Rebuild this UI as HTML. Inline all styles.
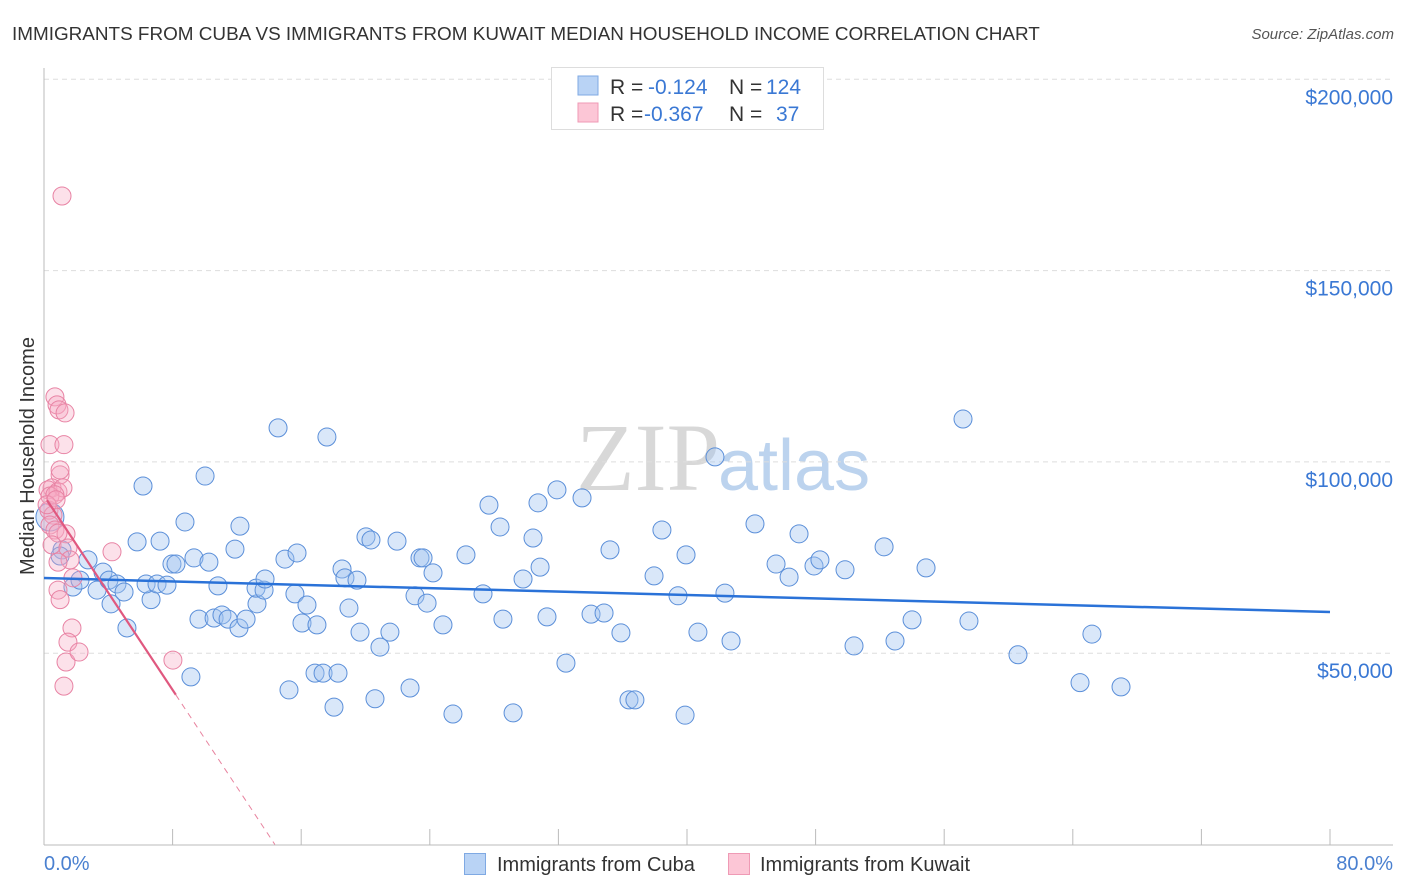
<!DOCTYPE html>
<html><head><meta charset="utf-8"><style>
body{margin:0;background:#fff;font-family:"Liberation Sans",sans-serif;}
#wrap{position:relative;width:1406px;height:892px;overflow:hidden;}
</style></head><body>
<div id="wrap">
<svg id="chart" width="1406" height="892" xmlns="http://www.w3.org/2000/svg">
<text x="12" y="40" font-size="18.9" fill="#333">IMMIGRANTS FROM CUBA VS IMMIGRANTS FROM KUWAIT MEDIAN HOUSEHOLD INCOME CORRELATION CHART</text>
<text x="1394" y="39" font-size="15" fill="#555" font-style="italic" text-anchor="end">Source: ZipAtlas.com</text>
<text x="720" y="490" font-size="96" fill="#d8d8d8" text-anchor="end" font-family="Liberation Serif">ZIP</text>
<text x="718" y="490" font-size="72" fill="#bcd3ee">atlas</text>
<g id="grid"></g><g id="axes"></g><g id="marks"></g>
<text transform="translate(34,456) rotate(-90)" font-size="20" fill="#333" text-anchor="middle">Median Household Income</text>
<text x="44" y="870" font-size="20" fill="#4a80d0">0.0%</text>
<text x="1393" y="870" font-size="20" fill="#4a80d0" text-anchor="end">80.0%</text>
<g>
<rect x="551.5" y="67.5" width="272" height="62" fill="#fff" stroke="#ddd"/>
<rect x="578" y="76" width="20" height="19" fill="#b9d3f5" stroke="#7fa9e3"/>
<rect x="578" y="103" width="20" height="19" fill="#fcc6d6" stroke="#ef9ab5"/>
<text x="610" y="94" font-size="21" fill="#333">R = </text><text x="648" y="94" font-size="21" fill="#3a78d4">-0.124</text>
<text x="729" y="94" font-size="21" fill="#333">N = </text><text x="766" y="94" font-size="21" fill="#3a78d4">124</text>
<text x="610" y="121" font-size="21" fill="#333">R = </text><text x="644" y="121" font-size="21" fill="#3a78d4">-0.367</text>
<text x="729" y="121" font-size="21" fill="#333">N = </text><text x="776" y="121" font-size="21" fill="#3a78d4">37</text>
</g>
<g>
<rect x="464.5" y="853.5" width="21" height="21" fill="#b9d3f5" stroke="#7fa9e3"/>
<text x="497" y="871" font-size="20" fill="#333">Immigrants from Cuba</text>
<rect x="728.5" y="853.5" width="21" height="21" fill="#fcc6d6" stroke="#ef9ab5"/>
<text x="760" y="871" font-size="20" fill="#333">Immigrants from Kuwait</text>
</g>
</svg>
</div>
<script>
const yTicks=[50000,100000,150000,200000];
const yTickLabels=["$50,000","$100,000","$150,000","$200,000"];
const xTicks=[8,16,24,32,40,48,56,64,72,80];
const cubaX=[0.37,1.12,1.0,2.74,1.80,2.24,3.30,3.67,4.04,4.17,4.54,4.98,5.16,5.79,6.16,6.66,6.35,7.22,7.03,7.65,7.96,8.21,8.77,9.14,9.33,9.64,10.02,10.26,10.58,10.82,11.07,11.45,11.88,12.19,12.13,12.57,13.25,13.19,13.69,13.75,14.56,14.99,15.24,15.61,15.74,16.05,16.36,16.86,16.98,17.36,17.60,18.04,18.29,18.54,18.72,18.97,19.47,19.66,20.03,20.34,20.59,20.90,21.52,21.96,22.77,23.08,23.39,23.58,23.83,24.20,24.82,25.44,26.25,27.31,27.68,28.37,28.55,29.18,29.80,30.42,30.73,30.86,31.29,31.91,32.47,33.47,34.03,34.84,35.21,35.89,36.39,36.76,37.95,38.44,39.44,39.88,39.94,40.68,41.74,42.36,42.74,44.23,45.54,46.35,46.97,47.90,48.27,49.83,50.39,52.26,52.94,54.00,54.87,57.17,57.54,60.59,64.45,65.19,67.00];
const cubaY=[85.6,77.0,75.4,74.4,67.3,69.1,66.5,71.2,69.1,62.9,68.1,66.0,56.6,79.1,93.7,64.0,68.1,79.3,68.1,67.8,73.3,73.3,84.3,43.8,74.9,58.9,96.3,73.8,59.2,67.6,60.0,58.9,77.2,83.2,56.6,58.9,62.9,67.0,66.5,69.4,108.9,74.6,40.4,65.5,76.2,57.9,62.6,44.8,57.4,44.8,106.5,35.9,44.8,72.0,69.7,61.8,69.1,55.5,80.4,79.6,38.1,51.6,55.5,79.3,40.9,65.0,74.9,74.9,63.1,71.0,57.4,34.1,75.7,65.5,88.7,83.0,58.9,34.4,69.4,80.1,89.3,72.5,59.5,92.7,47.4,90.6,60.2,60.5,77.0,55.3,37.8,37.8,70.2,82.2,65.0,33.8,75.7,55.5,101.3,65.7,53.2,83.8,73.3,69.9,81.2,72.8,74.4,71.8,51.9,77.8,53.2,58.7,72.3,111.2,58.4,49.6,42.3,55.0,41.2];
const kuwaitX=[1.12,0.68,0.81,0.93,1.31,0.37,1.24,1.0,0.50,0.25,0.87,1.18,0.37,0.31,0.56,0.37,0.68,1.37,0.87,0.50,1.49,1.62,4.23,0.87,1.80,0.87,1.0,1.74,1.49,1.37,2.18,1.24,8.02,0.68,0.19,0.75,1.0];
const kuwaitY=[169.5,117.0,114.9,113.6,112.8,104.5,104.5,96.6,93.2,92.7,92.2,93.2,91.1,87.4,86.1,83.5,82.2,81.2,81.4,78.3,77.5,74.4,76.5,73.8,69.7,66.5,64.0,56.6,52.9,47.7,50.3,41.4,48.2,91.4,88.8,90.1,97.9];
const cubaTrend=[69.65,60.77];   // y (k$) at x=0 and x=80
const kuwaitTrend=[91.2,-6.35];  // intercept (k$), slope per %
const X=v=>44+v*16.075;
const Y=v=>844.5-v*3.826; // v in $k
const NS="http://www.w3.org/2000/svg";
function mk(tag,attrs,parent){const e=document.createElementNS(NS,tag);for(const k in attrs)e.setAttribute(k,attrs[k]);parent.appendChild(e);return e;}
const grid=document.getElementById('grid'),axes=document.getElementById('axes'),marks=document.getElementById('marks');
yTicks.forEach((t,i)=>{
  const l=mk('line',{x1:44,x2:1393,y1:Y(t/1000),y2:Y(t/1000),stroke:'#ddd','stroke-dasharray':'5,4'},grid);
  
  
  const tx=mk('text',{x:1393,y:Y(t/1000)+25,'font-size':21,fill:'#3a78d4','text-anchor':'end'},grid);
  tx.textContent=yTickLabels[i];
  
  
});
const ya=mk('line',{x1:44,x2:44,y1:68,y2:845,stroke:'#bbb'},axes);


const xa=mk('line',{x1:44,x2:1393,y1:845,y2:845,stroke:'#bbb'},axes);


xTicks.forEach(t=>{
  const l=mk('line',{x1:X(t),x2:X(t),y1:829,y2:845,stroke:'#bbb'},axes);
  
  
});
cubaX.forEach((x,i)=>{
  const c=mk('circle',{cx:X(x),cy:Y(cubaY[i]),r:(i===0?14:9),fill:'rgba(160,196,240,0.4)',stroke:'#5b8fd9','stroke-width':1},marks);
  
  
});
kuwaitX.forEach((x,i)=>{
  const c=mk('circle',{cx:X(x),cy:Y(kuwaitY[i]),r:9,fill:'rgba(245,170,196,0.35)',stroke:'#e883a4','stroke-width':1},marks);
  
  
});
const bl=mk('line',{x1:X(0),x2:X(80),y1:Y(cubaTrend[0]),y2:Y(cubaTrend[1]),stroke:'#2a72d8','stroke-width':2.5},marks);


const kx0=0.19,kx1=8.2,kx2=kuwaitTrend[0]/-kuwaitTrend[1];
const pl=mk('line',{x1:X(kx0),x2:X(kx1),y1:Y(kuwaitTrend[0]+kuwaitTrend[1]*kx0),y2:Y(kuwaitTrend[0]+kuwaitTrend[1]*kx1),stroke:'#e0587f','stroke-width':2.2},marks);


const pd=mk('line',{x1:X(kx1),x2:X(kx2),y1:Y(kuwaitTrend[0]+kuwaitTrend[1]*kx1),y2:Y(0),stroke:'#e8839f','stroke-width':1,'stroke-dasharray':'6,5'},marks);


</script>
</body></html>
